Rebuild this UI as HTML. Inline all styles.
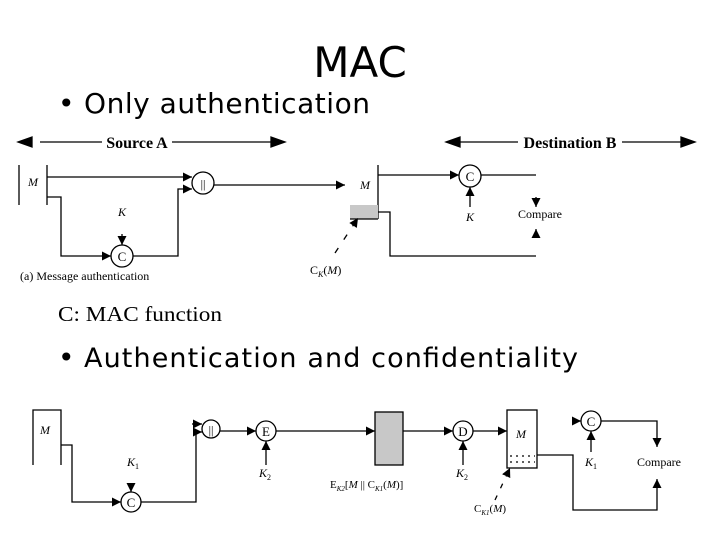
<!DOCTYPE html>
<html><head><meta charset="utf-8"><style>
html,body{margin:0;padding:0;background:#fff;}
svg{display:block;}
.s{font-family:"Liberation Serif",serif;}
.a{font-family:"DejaVu Sans","Liberation Sans",sans-serif;}
</style></head><body>
<svg width="720" height="540" viewBox="0 0 720 540" xmlns="http://www.w3.org/2000/svg">
<defs>
<marker id="ar" viewBox="0 0 10 10" refX="10" refY="5" markerWidth="9" markerHeight="9" markerUnits="userSpaceOnUse" orient="auto"><path d="M0,0L10,5L0,10z" fill="#000"/></marker>
</defs>
<g stroke="#000" stroke-width="1.3" fill="none">
<line x1="40" y1="142" x2="102" y2="142"/><polygon points="18,142 32,137 32,147" fill="#000"/>
<line x1="172" y1="142" x2="272" y2="142"/><polygon points="285,142 271,137 271,147" fill="#000"/>
<line x1="460" y1="142" x2="518" y2="142"/><polygon points="446,142 460,137 460,147" fill="#000"/>
<line x1="622" y1="142" x2="682" y2="142"/><polygon points="695,142 681,137 681,147" fill="#000"/>
<line x1="19" y1="165" x2="19" y2="205"/><line x1="47" y1="165" x2="47" y2="205"/>
<line x1="47" y1="177" x2="192" y2="177" marker-end="url(#ar)"/>
<circle cx="203" cy="183" r="11"/>
<polyline points="47,197 61,197 61,256 111,256" marker-end="url(#ar)"/>
<circle cx="122" cy="256" r="11"/>
<line x1="122" y1="234" x2="122" y2="245" marker-end="url(#ar)"/>
<polyline points="133,256 178,256 178,189 192,189" marker-end="url(#ar)"/>
<line x1="214" y1="185" x2="345" y2="185" marker-end="url(#ar)"/>
<line x1="378" y1="165" x2="378" y2="219"/>
<rect x="350" y="205" width="28" height="14" fill="#c8c8c8" stroke="none"/>
<line x1="350" y1="219" x2="378" y2="219"/>
<line x1="378" y1="175" x2="459" y2="175" marker-end="url(#ar)"/>
<circle cx="470" cy="176" r="11"/>
<line x1="481" y1="175" x2="536" y2="175"/>
<line x1="470" y1="207" x2="470" y2="187" marker-end="url(#ar)"/>
<line x1="536" y1="197" x2="536" y2="207" marker-end="url(#ar)"/>
<line x1="536" y1="238" x2="536" y2="229" marker-end="url(#ar)"/>
<polyline points="378,212 390,212 390,256 536,256"/>
<line x1="335" y1="253" x2="358" y2="218" stroke-dasharray="6,10" marker-end="url(#ar)"/>
<polyline points="33,465 33,410 61,410 61,465"/>
<polyline points="61,445 72,445 72,502 121,502" marker-end="url(#ar)"/>
<circle cx="131" cy="502" r="10"/>
<line x1="131" y1="484" x2="131" y2="492" marker-end="url(#ar)"/>
<polyline points="141,502 196,502 196,432 202,432" marker-end="url(#ar)"/>
<line x1="192" y1="424" x2="202" y2="424" marker-end="url(#ar)"/>
<circle cx="211" cy="429" r="9"/>
<line x1="220" y1="431" x2="256" y2="431" marker-end="url(#ar)"/>
<circle cx="266" cy="431" r="10"/>
<line x1="266" y1="465" x2="266" y2="441" marker-end="url(#ar)"/>
<line x1="276" y1="431" x2="375" y2="431" marker-end="url(#ar)"/>
<rect x="375" y="412" width="28" height="53" fill="#c8c8c8"/>
<line x1="403" y1="431" x2="453" y2="431" marker-end="url(#ar)"/>
<circle cx="463" cy="431" r="10"/>
<line x1="463" y1="465" x2="463" y2="441" marker-end="url(#ar)"/>
<line x1="473" y1="431" x2="507" y2="431" marker-end="url(#ar)"/>
<rect x="507" y="410" width="30" height="58"/>
<line x1="510" y1="456" x2="535" y2="456" stroke-dasharray="2,4"/>
<line x1="510" y1="462" x2="535" y2="462" stroke-dasharray="2,4"/>
<polyline points="537,455 573,455 573,510 657,510 657,479" marker-end="url(#ar)"/>
<line x1="577" y1="421" x2="581" y2="421" marker-end="url(#ar)"/>
<circle cx="591" cy="421" r="10"/>
<polyline points="601,421 657,421 657,447" marker-end="url(#ar)"/>
<line x1="591" y1="452" x2="591" y2="431" marker-end="url(#ar)"/>
<line x1="495" y1="500" x2="510" y2="468" stroke-dasharray="5,8" marker-end="url(#ar)"/>
</g>
<g class="s" fill="#000">
<text x="137" y="148" font-size="16" font-weight="bold" text-anchor="middle">Source A</text>
<text x="570" y="148" font-size="16" font-weight="bold" text-anchor="middle">Destination B</text>
<text x="33" y="186" font-size="12" font-style="italic" text-anchor="middle">M</text>
<text x="203" y="188" font-size="12" text-anchor="middle">||</text>
<text x="122" y="216" font-size="12" font-style="italic" text-anchor="middle">K</text>
<text x="122" y="261" font-size="13" text-anchor="middle">C</text>
<text x="20" y="280" font-size="12">(a) Message authentication</text>
<text x="365" y="189" font-size="12" font-style="italic" text-anchor="middle">M</text>
<text x="470" y="181" font-size="13" text-anchor="middle">C</text>
<text x="470" y="221" font-size="12" font-style="italic" text-anchor="middle">K</text>
<text x="540" y="218" font-size="12" text-anchor="middle">Compare</text>
<text x="310" y="274" font-size="12">C<tspan font-size="8" dy="3" font-style="italic">K</tspan><tspan dy="-3">(</tspan><tspan font-style="italic">M</tspan>)</text>
<text x="58" y="321" font-size="21" textLength="164" lengthAdjust="spacingAndGlyphs">C: MAC function</text>
<text x="45" y="434" font-size="12" font-style="italic" text-anchor="middle">M</text>
<text x="127" y="466" font-size="12" font-style="italic">K<tspan font-size="8" dy="3" font-style="normal">1</tspan></text>
<text x="131" y="507" font-size="13" text-anchor="middle">C</text>
<text x="211" y="434" font-size="12" text-anchor="middle">||</text>
<text x="266" y="436" font-size="13" text-anchor="middle">E</text>
<text x="259" y="477" font-size="12" font-style="italic">K<tspan font-size="8" dy="3" font-style="normal">2</tspan></text>
<text x="330" y="488" font-size="11">E<tspan font-size="7" dy="3" font-style="italic">K2</tspan><tspan dy="-3">[</tspan><tspan font-style="italic">M</tspan> || C<tspan font-size="7" dy="3" font-style="italic">K1</tspan><tspan dy="-3">(</tspan><tspan font-style="italic">M</tspan>)]</text>
<text x="463" y="436" font-size="13" text-anchor="middle">D</text>
<text x="456" y="477" font-size="12" font-style="italic">K<tspan font-size="8" dy="3" font-style="normal">2</tspan></text>
<text x="521" y="438" font-size="12" font-style="italic" text-anchor="middle">M</text>
<text x="591" y="426" font-size="13" text-anchor="middle">C</text>
<text x="585" y="466" font-size="12" font-style="italic">K<tspan font-size="8" dy="3" font-style="normal">1</tspan></text>
<text x="637" y="466" font-size="12">Compare</text>
<text x="474" y="512" font-size="11">C<tspan font-size="7" dy="3" font-style="italic">K1</tspan><tspan dy="-3">(</tspan><tspan font-style="italic">M</tspan>)</text>
</g>
<g class="a" fill="#000">
<text x="360" y="77" font-size="42" text-anchor="middle">MAC</text>
<text x="58" y="113" font-size="28">•</text>
<text x="84" y="113" font-size="28" textLength="286" lengthAdjust="spacing">Only authentication</text>
<text x="58" y="367" font-size="28">•</text>
<text x="84" y="367" font-size="27" textLength="494" lengthAdjust="spacing">Authentication and confidentiality</text>
</g>
</svg>
</body></html>
